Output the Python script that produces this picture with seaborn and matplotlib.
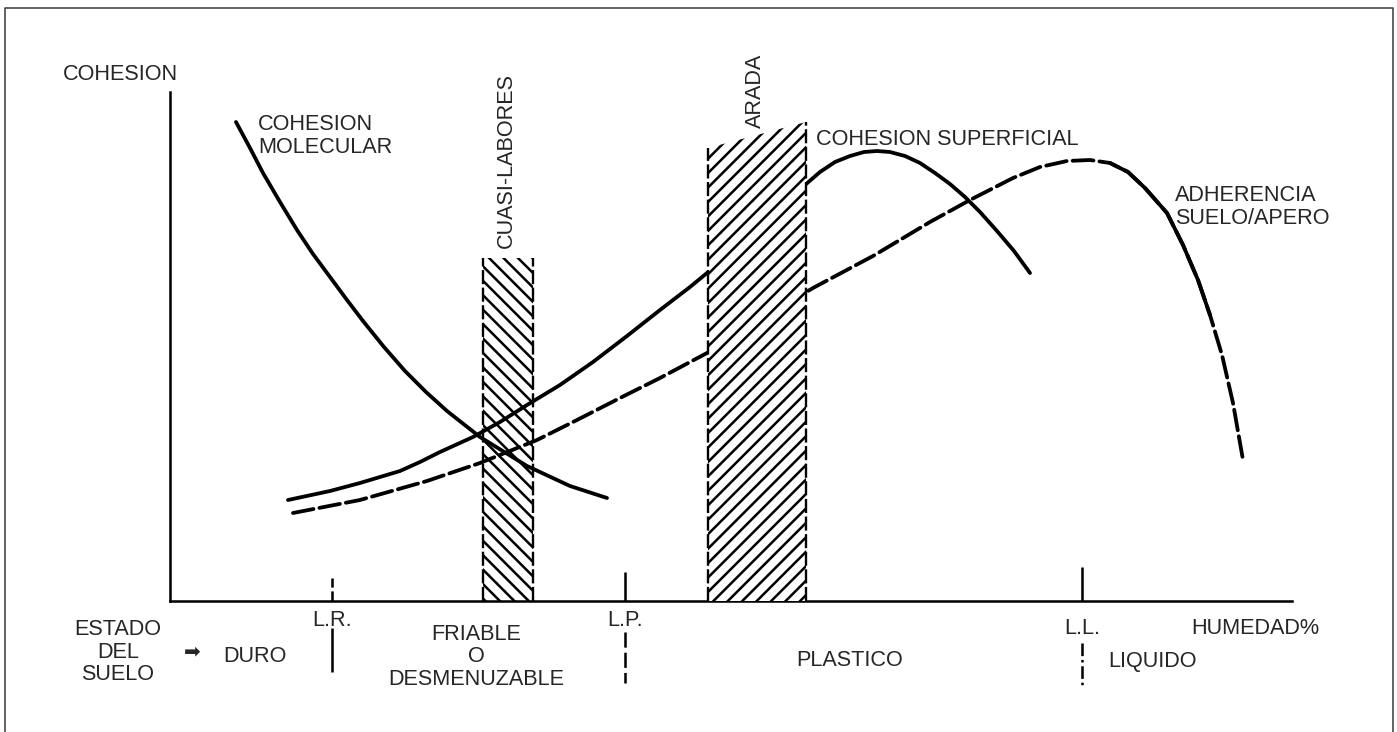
import matplotlib
matplotlib.use("Agg")
import matplotlib.pyplot as plt
import seaborn as sns

# DATA (arbitrary units: humidity -> x, cohesion -> y)
mol_x = [66, 80, 93, 110, 127, 143, 160, 177, 193, 214, 235, 256, 277, 310,
         357, 400, 437]
mol_y = [479, 453, 428, 399, 371, 347, 324, 301, 280, 254, 230, 209, 190,
         164, 135, 115, 103]

sup_x = [118, 160, 190, 230, 250, 270, 303, 330, 357, 390, 423, 457, 490,
         520, 537, 590, 635, 650, 665, 680, 694, 707, 720, 735, 750, 765,
         780, 795, 810, 827, 844, 860]
sup_y = [101, 110, 118, 130, 139, 149, 164, 179, 196, 216, 239, 265, 291,
         314, 328, 372, 416, 429, 439, 445, 449, 450, 449, 445, 438, 428,
         417, 404, 389, 370, 350, 328]

adh_x = [123, 190, 257, 310, 367, 407, 450, 490, 537, 590, 643, 703, 760,
         800, 843, 870, 897, 920, 940, 958, 975, 997, 1013, 1028, 1040,
         1052, 1063, 1073]
adh_y = [88, 101, 120, 138, 161, 181, 203, 223, 248, 281, 313, 345, 379,
         401, 423, 434, 440, 441, 438, 429, 413, 388, 356, 321, 286,
         246, 198, 141]
adh_solid = (940, 1045)  # stretch of the adherence curve drawn solid

cuasi_x = [313, 363]
cuasi_top = [343, 343]
arada_x = [538, 636]
arada_top = [453, 479]

limit_names = ["L.R.", "L.P.", "L.L."]
limit_x = [162, 455, 912]

estados = ["DURO", "FRIABLE\nO\nDESMENUZABLE", "PLASTICO", "LIQUIDO"]
estado_x = [85, 306, 680, 982]

# STYLE
sns.set_style("white")
plt.rcParams["font.family"] = ["Liberation Sans", "DejaVu Sans"]
plt.rcParams["hatch.linewidth"] = 1.4

DPI = 130
fig = plt.figure(figsize=(1397 / DPI, 732 / DPI), dpi=DPI)
ax = fig.add_axes([170 / 1397, 131 / 732, 1122 / 1397, 509 / 732])
FS = 12

# hatched bands
ax.fill_between(cuasi_x, cuasi_top, 0, facecolor="none", edgecolor="black",
                hatch="\\\\\\", linewidth=0, zorder=1)
ax.vlines(cuasi_x, 0, cuasi_top, color="black", lw=1.3,
          linestyles=(0, (6, 1.5)), zorder=1)
ax.fill_between(arada_x, arada_top, 0, facecolor="white", edgecolor="black",
                hatch="///", linewidth=0, zorder=3)
ax.vlines(arada_x, 0, arada_top, color="black", lw=1.3,
          linestyles=(0, (6, 1.5)), zorder=3)

# curves
sns.lineplot(x=mol_x, y=mol_y, sort=False, estimator=None, ax=ax,
             color="black", lw=2.1, solid_capstyle="round",
             solid_joinstyle="round", zorder=2)
sns.lineplot(x=sup_x, y=sup_y, sort=False, estimator=None, ax=ax,
             color="black", lw=2.1, solid_capstyle="round",
             solid_joinstyle="round", zorder=2)
sns.lineplot(x=adh_x, y=adh_y, sort=False, estimator=None, ax=ax,
             color="black", lw=2.1, linestyle=(0, (5.5, 1.6)),
             dash_capstyle="round", zorder=2)
solid = [(x, y) for x, y in zip(adh_x, adh_y) if adh_solid[0] <= x <= adh_solid[1]]
sns.lineplot(x=[p[0] for p in solid], y=[p[1] for p in solid], sort=False,
             estimator=None, ax=ax, color="black", lw=2.1,
             solid_capstyle="round", solid_joinstyle="round", zorder=2)

# axes
ax.set_xlim(0, 1122)
ax.set_ylim(0, 509)
ax.set_xticks([])
ax.set_yticks([])
ax.set_xlabel("")
ax.set_ylabel("")
for side in ["top", "right"]:
    ax.spines[side].set_visible(False)
for side in ["left", "bottom"]:
    ax.spines[side].set_linewidth(1.4)
    ax.spines[side].set_color("black")

# limit marks on the humidity axis
up = [23, 29, 34]
down = [(-27, -71), (-31, -82), (-42, -87)]
up_style = [(0, (4, 1.5)), "solid", "solid"]
down_style = ["solid", (0, (6, 2)), (0, (5, 1.5, 1, 1.5))]
label_y = [-20, -20, -27]
for i, name in enumerate(limit_names):
    ax.vlines(limit_x[i], 0, up[i], color="black", lw=1.4,
              linestyles=up_style[i], clip_on=False)
    ax.vlines(limit_x[i], down[i][0], down[i][1], color="black", lw=1.4,
              linestyles=down_style[i], clip_on=False)
    ax.text(limit_x[i], label_y[i], name, ha="center", va="center",
            fontsize=FS, clip_on=False)

# soil states
ax.text(-52, -51, "ESTADO\nDEL\nSUELO", ha="center", va="center",
        fontsize=FS, linespacing=1.1, clip_on=False)
ax.text(22, -51, "➡", ha="center", va="center", fontsize=11,
        family=["DejaVu Sans"], clip_on=False)
state_y = [-55, -56, -59, -61]
for s, x, y in zip(estados, estado_x, state_y):
    ax.text(x, y, s, ha="center", va="center", fontsize=FS,
            linespacing=1.08, clip_on=False)
ax.text(1085, -27, "HUMEDAD%", ha="center", va="center", fontsize=FS,
        clip_on=False)

# curve and band labels
ax.text(-50, 526, "COHESION", ha="center", va="center", fontsize=FS,
        clip_on=False)
ax.text(88, 465, "COHESION\nMOLECULAR", ha="left", va="center",
        fontsize=FS, linespacing=1.1)
ax.text(646, 461, "COHESION SUPERFICIAL", ha="left", va="center",
        fontsize=FS)
ax.text(1005, 394, "ADHERENCIA\nSUELO/APERO", ha="left", va="center",
        fontsize=FS, linespacing=1.1)
ax.text(336, 353, "CUASI-LABORES", rotation=90, ha="center", va="bottom",
        fontsize=FS, clip_on=False)
ax.text(585, 473, "ARADA", rotation=90, ha="center", va="bottom",
        fontsize=FS, clip_on=False)

# outer frame of the figure
fx = [5 / 1397, 5 / 1397, 1393 / 1397, 1393 / 1397]
fy = [0, 1 - 8 / 732, 1 - 8 / 732, 0]
fig.add_artist(plt.Line2D(fx, fy, transform=fig.transFigure,
                          color="#444444", lw=0.9))

fig.savefig("out.png", dpi=DPI)
